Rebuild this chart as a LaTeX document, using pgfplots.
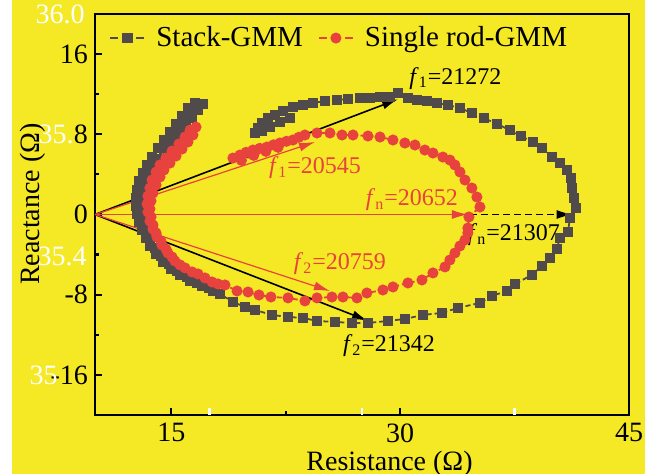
\documentclass[border=0pt]{standalone}
\usepackage{pgfplots}
\pgfplotsset{compat=1.18}
\usepackage{fontspec}
\setmainfont{Liberation Serif}
\usetikzlibrary{arrows.meta}
\definecolor{bgy}{RGB}{245,233,38}
\definecolor{sgray}{RGB}{80,74,74}
\definecolor{sred}{RGB}{232,66,62}
\begin{document}
\begin{tikzpicture}
\fill[white] (-47.5pt,-29.5pt) rectangle (278.5pt,207.5pt);
\fill[bgy] (-41.5pt,-29.5pt) rectangle (275pt,207.5pt);
\begin{axis}[
  at={(0pt,0pt)}, anchor=south west,
  scale only axis, width=267pt, height=200.5pt,
  clip=false,
  xmin=10, xmax=45, ymin=-20, ymax=20,
  xtick={15,30,45}, xticklabels={15,30,45},
  ytick={-16,-8,0,8,16}, yticklabels={-16,-8,0,8,16},
  minor xtick={22.5,37.5}, minor ytick={-12,-4,4,12},
  extra x ticks={17.5,27.5,37.5}, extra x tick labels={},
  extra x tick style={tick style={white, line width=1.2pt}},
  tick align=inside, xtick pos=bottom, ytick pos=left,
  major tick length=3.5pt, minor tick length=2pt,
  tick style={black, line width=1.1pt},
  axis line style={line width=1.4pt},
  tick label style={font=\fontsize{14}{16}\selectfont},
  xticklabel style={yshift=-2pt, inner sep=2pt},
  label style={font=\fontsize{14}{16}\selectfont},
  xlabel={Resistance (Ω)},
  ylabel={Reactance (Ω)},
  xlabel style={at={(axis description cs:0.5515,-0.1372)}, anchor=base, inner sep=1pt},
  ylabel style={at={(axis description cs:-0.1161,0.526)}, anchor=center},
  legend image code/.code={\draw[mark repeat=2,mark phase=2,#1,dash pattern=on 4pt off 9pt on 4pt]
      plot coordinates {(0cm,0cm) (0.3cm,0cm) (0.6cm,0cm)};},
  legend columns=2,
  legend style={at={(rel axis cs:0,0.94)}, anchor=west, xshift=4pt, draw=none, fill=none,
    font=\fontsize{14.5}{16}\selectfont,
    /tikz/every odd column/.append style={column sep=3.5pt},
    /tikz/every even column/.append style={column sep=5.5pt}},
]
\addplot[sgray, line width=0.9pt, dash pattern=on 2.5pt off 1.5pt, mark=square*, mark size=2.2pt,
  mark options={solid, fill=sgray, draw=sgray}] coordinates {
(17.08,11.02)(16.55,11.12)(16.09,10.62)(16.75,10.42)(15.70,9.82)(16.36,9.62)(15.31,9.02)(15.96,8.82)(14.91,8.23)(15.57,8.03)(14.52,7.43)(15.18,7.23)(14.13,6.63)(14.78,6.43)(13.74,5.73)(14.39,5.53)(13.41,4.94)(14.06,4.74)(13.15,4.14)(13.74,3.94)(12.88,3.34)(13.41,3.14)(12.75,2.44)(13.21,2.24)(12.69,1.65)(13.01,1.45)(12.69,0.85)(12.95,0.65)(12.75,0.05)(13.01,-0.15)(12.88,-0.75)(13.15,-0.95)(13.08,-1.55)(13.34,-1.74)(13.34,-2.34)(13.60,-2.54)(13.60,-3.14)(13.93,-3.34)(14.00,-3.94)(14.32,-4.14)(14.46,-4.74)(14.85,-4.94)(14.98,-5.43)(15.37,-5.63)(15.57,-6.03)(16.03,-6.23)(16.23,-6.63)(16.68,-6.83)(17.01,-7.13)(17.47,-7.33)(17.73,-7.63)(18.19,-7.93)
(19.04,-8.72)(19.83,-9.22)(20.48,-9.52)(21.60,-10.02)(22.65,-10.22)(23.64,-10.32)(24.55,-10.62)(25.73,-10.72)(26.84,-10.82)(27.89,-10.82)(29.20,-10.62)(30.32,-10.42)(31.49,-10.02)(32.74,-9.82)(33.79,-9.32)(35.23,-8.82)(36.02,-8.12)(37.00,-7.63)(37.52,-6.93)(38.64,-6.03)(39.29,-5.13)(39.82,-4.34)(40.27,-3.44)(40.47,-2.34)(41.00,-1.74)
(41.13,-0.35)(41.52,0.65)(41.39,1.65)(41.26,2.64)(41.19,3.64)(40.93,4.44)(40.47,5.13)(39.95,5.73)(39.29,6.63)(38.70,7.23)(37.92,7.83)(37.20,8.42)(36.35,9.02)(35.49,9.62)(34.70,10.12)(33.92,10.62)(33.13,10.92)(32.41,11.12)(31.76,11.32)(31.10,11.41)(30.51,11.61)(29.86,12.11)(29.33,11.71)(28.68,11.71)(28.02,11.61)(27.37,11.61)(26.58,11.52)(25.86,11.42)(25.07,11.32)(24.29,11.12)(23.63,10.92)(22.97,10.72)(22.32,10.32)(21.80,9.92)(21.34,9.62)(20.94,9.12)(20.68,8.62)(20.48,8.13)(20.94,8.33)(21.47,8.72)(22.12,9.22)(22.78,9.62)
};
\addlegendentry{Stack-GMM}
\addplot[sred, line width=0.9pt, dash pattern=on 2.5pt off 1.5pt, mark=*, mark size=2.3pt,
  mark options={solid, fill=sred, draw=sred}] coordinates {
(16.62,8.72)(16.23,8.42)(16.42,7.93)(15.90,7.73)(16.09,7.23)(15.50,7.03)(15.70,6.53)(15.05,6.33)(15.31,5.83)(14.65,5.63)(14.91,5.13)(14.26,4.94)(14.52,4.44)(14.00,4.24)(14.26,3.74)(13.74,3.44)(14.00,2.94)(13.60,2.64)(13.80,2.14)(13.47,1.84)(13.67,1.35)(13.41,1.05)(13.60,0.55)(13.47,0.25)(13.67,-0.25)(13.60,-0.65)(13.80,-1.05)(13.80,-1.45)(14.00,-1.84)(14.06,-2.24)(14.32,-2.64)(14.39,-3.04)(14.65,-3.44)(14.78,-3.84)(15.05,-4.24)(15.24,-4.64)(15.57,-5.03)(15.90,-5.33)(16.36,-5.73)(16.75,-5.93)(17.21,-6.33)(17.67,-6.73)(18.06,-6.93)
(18.52,-7.03)(19.31,-7.63)(20.03,-7.73)(20.75,-8.03)(21.53,-8.23)(22.65,-8.32)(23.76,-8.62)(24.55,-8.32)(25.53,-8.23)(26.25,-8.23)(27.17,-8.32)(27.82,-7.83)(28.87,-7.53)(29.53,-7.23)(30.51,-6.83)(31.43,-6.53)(32.15,-5.83)(32.94,-5.23)(33.26,-4.54)(33.59,-3.84)(33.92,-3.14)(34.25,-2.54)(34.44,-1.84)(34.44,-1.35)(34.51,-0.25)(35.23,0.75)(35.03,1.74)(34.70,2.64)(34.25,3.44)(33.92,4.24)(33.59,4.94)(33.26,5.43)(32.80,5.73)(32.15,6.13)(31.62,6.43)(30.97,6.93)(30.31,7.13)(29.53,7.43)(28.68,7.73)(27.89,7.83)(26.91,7.93)(26.19,7.93)(25.40,8.13)(24.55,8.13)(23.76,7.93)(23.36,7.70)(22.97,7.43)(22.55,7.30)(22.12,7.13)(21.70,6.95)(21.27,6.73)(20.80,6.60)(20.35,6.43)(19.90,6.20)(19.50,5.93)(19.04,5.63)(19.60,5.40)(20.40,5.90)(21.20,6.30)(22.00,6.70)
};
\addlegendentry{Single rod-GMM}
% arrows
\addplot[forget plot, black, line width=0.8pt, -{Latex[length=8pt,width=4.5pt]}] coordinates {(10,0) (29.86,11.5)};
\addplot[forget plot, black, line width=0.8pt, -{Latex[length=8pt,width=4.5pt]}] coordinates {(10,0) (27.89,-10.6)};
\addplot[forget plot, black, line width=0.8pt, dash pattern=on 3.5pt off 2pt, -{Latex[length=8pt,width=4.5pt]}] coordinates {(34.6,0) (41.3,0)};
\addplot[forget plot, sred, line width=0.6pt, -{Latex[length=8pt,width=4.5pt]}] coordinates {(10,0) (24.42,7.23)};
\addplot[forget plot, sred, line width=0.6pt, -{Latex[length=8pt,width=4.5pt]}] coordinates {(10,0) (34.44,0)};
\addplot[forget plot, sred, line width=0.6pt, -{Latex[length=8pt,width=4.5pt]}] coordinates {(10,0) (25.40,-7.63)};
% annotations
\node[font=\fontsize{12}{14}\selectfont] at (axis cs:33.62,13.6) {\textit{f}\textsubscript{1}=21272};
\node[font=\fontsize{12}{14}\selectfont, text=sred] at (axis cs:24.42,4.64) {\textit{f}\textsubscript{1}=20545};
\node[font=\fontsize{12}{14}\selectfont, text=sred] at (axis cs:30.77,1.45) {\textit{f}\textsubscript{n}=20652};
\node[font=\fontsize{12}{14}\selectfont] at (axis cs:37.46,-2.04) {\textit{f}\textsubscript{n}=21307};
\node[font=\fontsize{12}{14}\selectfont, text=sred] at (axis cs:26.05,-4.94) {\textit{f}\textsubscript{2}=20759};
\node[font=\fontsize{12}{14}\selectfont] at (axis cs:29.27,-13.1) {\textit{f}\textsubscript{2}=21342};
% white stray labels
\node[anchor=east, inner sep=0pt, text=white, font=\fontsize{14}{16}\selectfont, xshift=-5pt] at (rel axis cs:0,1) {36.0};
\node[anchor=east, inner sep=0pt, text=white, font=\fontsize{14}{16}\selectfont, xshift=-10.5pt] at (rel axis cs:0,0.7) {35.};
\node[anchor=east, inner sep=0pt, text=white, font=\fontsize{14}{16}\selectfont, xshift=-4pt] at (rel axis cs:0,0.395) {35.4};
\node[anchor=east, inner sep=0pt, text=white, font=\fontsize{14}{16}\selectfont, xshift=-18.5pt] at (rel axis cs:0,0.1) {35};
\end{axis}
\pgfresetboundingbox
\useasboundingbox (-47.5pt,-29.5pt) rectangle (278.5pt,207.5pt);
\end{tikzpicture}
\end{document}
